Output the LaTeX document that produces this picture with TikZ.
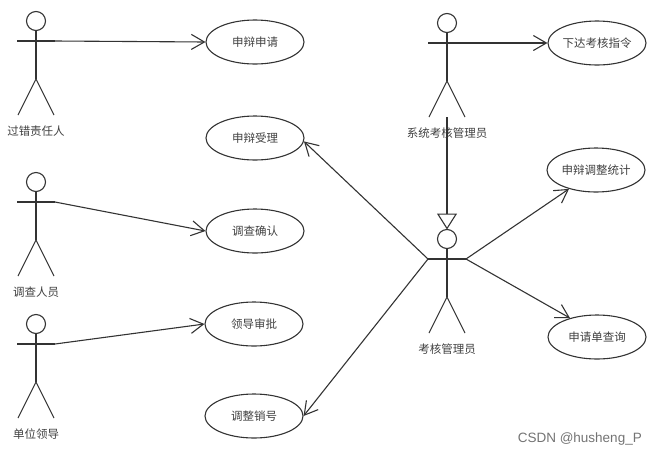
\documentclass[tikz,border=0pt]{standalone}
\usepackage{fontspec}
\newfontfamily\cjk{Noto Sans CJK SC}
\newfontfamily\wmfont{Liberation Sans}
\usetikzlibrary{shapes.geometric,arrows.meta}
\tikzset{
  ln/.style={draw=black!80,line width=1.1pt},
  uc/.style={ellipse,ln,minimum width=98pt,minimum height=44pt,inner sep=0pt,
    font=\cjk\fontsize{11.5pt}{13pt}\selectfont,text=black!75},
  alabel/.style={font=\cjk\fontsize{11.5pt}{13pt}\selectfont,text=black!75,inner sep=0pt},
  arr/.style={ln,-{Straight Barb[length=13pt,width=15pt,line width=1.1pt]}},
  gen/.style={ln,-{Triangle[open,length=16pt,width=20pt,line width=1.1pt]}},
  pics/actor/.style={code={
    \draw[ln] (0,0) circle (9.5pt);
    \draw[ln] (0,-9.5pt) -- (0,-58pt);
    \draw[ln] (-19pt,-20pt) -- (19pt,-20pt);
    \draw[ln] (-18pt,-94pt) -- (0,-58pt) -- (18pt,-94pt);
    \coordinate (-larm) at (-19pt,-20pt);
    \coordinate (-rarm) at (19pt,-20pt);
    \coordinate (-top) at (0,9.5pt);
    \coordinate (-feet) at (0,-94pt);
    \node[alabel] (-label) at (0,-110pt) {#1};
  }}
}
\begin{document}
\begin{tikzpicture}[x=1pt,y=-1pt]
\useasboundingbox (0,0) rectangle (656,456);
% use cases
\node[uc] (E1) at (255,42) {申辩申请};
\node[uc] (E2) at (255,138) {申辩受理};
\node[uc] (E3) at (255,231) {调查确认};
\node[uc] (E4) at (254,324) {领导审批};
\node[uc] (E5) at (254,416) {调整销号};
\node[uc] (E6) at (597,43) {下达考核指令};
\node[uc] (E7) at (596,170) {申辩调整统计};
\node[uc] (E8) at (597,337) {申请单查询};
% actors
\pic (A1) at (36,21) {actor={过错责任人}};
\pic (A2) at (36,182) {actor={调查人员}};
\pic (A3) at (36,324) {actor={单位领导}};
\pic (A4) at (447,23) {actor={系统考核管理员}};
\pic (A5) at (447,239) {actor={考核管理员}};
% connectors
\draw[arr] (A1-rarm) -- (E1.west);
\draw[arr] (A2-rarm) -- (E3.west);
\draw[arr] (A3-rarm) -- (E4.west);
\draw[arr] (A4-rarm) -- (E6.west);
\draw[arr] (A5-larm) -- (E2.-4);
\draw[arr] (A5-larm) -- (E5.east);
\draw[arr] (A5-rarm) -- (E7.-145);
\draw[arr] (A5-rarm) -- (E8.145);
\draw[gen] (A4-feet) -- (A5-top);
% watermark
\node[anchor=east,inner sep=0pt,font=\wmfont\fontsize{13.5pt}{15pt}\selectfont,text=black!55] (wm) at (642,439) {CSDN @husheng\_P};
\end{tikzpicture}
\end{document}
